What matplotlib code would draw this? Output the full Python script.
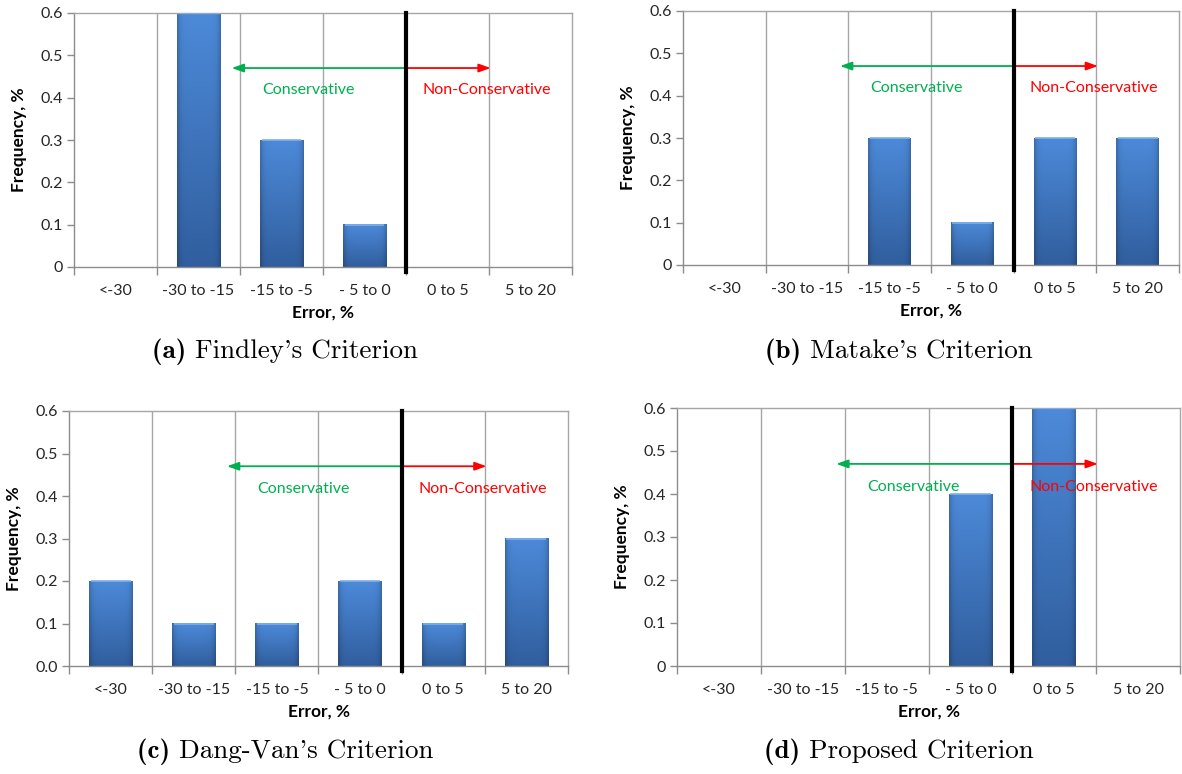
# Error histograms for four fatigue criteria, 2x2 panel figure
import numpy as np
import matplotlib as mpl
import matplotlib.pyplot as plt

mpl.rcParams['font.family'] = ['Lato', 'DejaVu Sans']

# data
categories = ['<-30', '-30 to -15', '-15 to -5', '- 5 to 0', '0 to 5', '5 to 20']
findley = [0.0, 0.6, 0.3, 0.1, 0.0, 0.0]
matake = [0.0, 0.0, 0.3, 0.1, 0.3, 0.3]
dang_van = [0.2, 0.1, 0.1, 0.2, 0.1, 0.3]
proposed = [0.0, 0.0, 0.0, 0.4, 0.6, 0.0]
y_ticks = [0.0, 0.1, 0.2, 0.3, 0.4, 0.5, 0.6]
captions = [("(a)", "Findley's Criterion"), ("(b)", "Matake's Criterion"),
            ("(c)", "Dang-Van's Criterion"), ("(d)", "Proposed Criterion")]

# styles
GRID_COLOR = '#a6a6a6'
SPINE_COLOR = '#8c8c8c'
GREEN = '#00b050'
RED = '#ff0000'
BAR_TOP = np.array([0.30, 0.54, 0.85])
BAR_BOT = np.array([0.19, 0.37, 0.62])
TICK_SIZE = 11.5
LABEL_SIZE = 12.5
CAPTION_SIZE = 19.5


def bar_gradient():
    t = np.linspace(0, 1, 120)[:, None, None]
    u = np.linspace(0, 1, 60)[None, :, None]
    img = BAR_TOP * (1 - t) + BAR_BOT * t
    img = img * (1 - 0.22 * np.abs(2 * u - 1) ** 8)
    return np.clip(img, 0, 1)


GRAD = bar_gradient()


def draw_panel(ax, values, ylabels):
    x = np.arange(len(categories))
    bars = ax.bar(x, values, width=0.52, color='none', edgecolor='none', zorder=2)
    for b in bars:
        h = b.get_height()
        if h <= 0:
            continue
        x0 = b.get_x()
        w = b.get_width()
        ax.imshow(GRAD, extent=[x0, x0 + w, 0, h], aspect='auto',
                  interpolation='bilinear', zorder=2)
        ax.plot([x0 + 0.02, x0 + w - 0.02], [h, h], color='#7fb0ea', lw=1.2,
                zorder=3, solid_capstyle='butt')

    ax.set_xlim(-0.5, len(categories) - 0.5)
    ax.set_ylim(0, 0.6)
    ax.set_aspect('auto')

    # category separators
    bounds = np.arange(len(categories) + 1) - 0.5
    for bx in bounds[1:-1]:
        ax.axvline(bx, color=GRID_COLOR, lw=1, zorder=1)
    ax.set_xticks(bounds)
    ax.set_xticklabels([])
    ax.set_xticks(x, minor=True)
    ax.set_xticklabels(categories, minor=True, fontsize=TICK_SIZE, color='#262626')
    ax.tick_params(axis='x', which='major', length=6, color=SPINE_COLOR, width=1)
    ax.tick_params(axis='x', which='minor', length=0, pad=12)

    ax.set_yticks(y_ticks)
    ax.set_yticklabels(ylabels, fontsize=TICK_SIZE, color='#262626')
    ax.tick_params(axis='y', length=5, color=SPINE_COLOR, width=1, pad=3)

    for s in ax.spines.values():
        s.set_color(GRID_COLOR)
        s.set_linewidth(1)
    ax.spines['left'].set_color(SPINE_COLOR)
    ax.spines['bottom'].set_color(SPINE_COLOR)

    ax.set_xlabel('Error, %', fontsize=LABEL_SIZE, fontweight='bold', labelpad=5)
    ax.set_ylabel('Frequency, %', fontsize=LABEL_SIZE, fontweight='bold')
    ax.yaxis.set_label_coords(-0.094, 0.5)

    # conservative / non-conservative divider
    ax.plot([3.5, 3.5], [-0.012, 0.6], color='black', lw=3, zorder=5, clip_on=False)
    ax.annotate('', xy=(1.4, 0.47), xytext=(3.5, 0.47),
                arrowprops=dict(arrowstyle='-|>,head_length=0.7,head_width=0.25',
                                color=GREEN, lw=1.3, shrinkA=0, shrinkB=0), zorder=4)
    ax.annotate('', xy=(4.52, 0.47), xytext=(3.5, 0.47),
                arrowprops=dict(arrowstyle='-|>,head_length=0.7,head_width=0.25',
                                color=RED, lw=1.3, shrinkA=0, shrinkB=0), zorder=4)
    ax.text(2.32, 0.417, 'Conservative', color=GREEN, fontsize=11.5,
            ha='center', va='center', zorder=4)
    ax.text(4.47, 0.417, 'Non-Conservative', color=RED, fontsize=11.5,
            ha='center', va='center', zorder=4)


W, H = 1182, 774
fig = plt.figure(figsize=(W / 100, H / 100), dpi=100)

# axes boxes in pixels: left, right, top, bottom
boxes = [(74, 572, 13, 267), (683, 1179, 11, 265),
         (69, 568, 411, 666), (677, 1180, 408, 666)]
series = [findley, matake, dang_van, proposed]
fmt_plain = ['0', '0.1', '0.2', '0.3', '0.4', '0.5', '0.6']
fmt_one = ['%.1f' % v for v in y_ticks]
ylabel_sets = [fmt_plain, fmt_plain, fmt_one, fmt_plain]

for (l, r, t, b), vals, yl in zip(boxes, series, ylabel_sets):
    ax = fig.add_axes([l / W, 1 - b / H, (r - l) / W, (b - t) / H])
    draw_panel(ax, vals, yl)

# sub-captions: bold tag in cmb10, name in cmr10, centred together
renderer = fig.canvas.get_renderer()
cap_pos = [(285, 352), (899, 352), (285, 752), (899, 752)]
for (tag, name), (cx, cy) in zip(captions, cap_pos):
    t1 = fig.text(0, 0, tag + ' ', family='cmb10', fontsize=CAPTION_SIZE,
                  ha='left', va='baseline')
    t2 = fig.text(0, 0, name, family='cmr10', fontsize=CAPTION_SIZE,
                  ha='left', va='baseline')
    w1 = t1.get_window_extent(renderer).width
    w2 = t2.get_window_extent(renderer).width
    x0 = cx - (w1 + w2) / 2
    yb = 1 - (cy + 6) / H
    t1.set_position((x0 / W, yb))
    t2.set_position(((x0 + w1) / W, yb))

fig.savefig('out.png', dpi=100)
